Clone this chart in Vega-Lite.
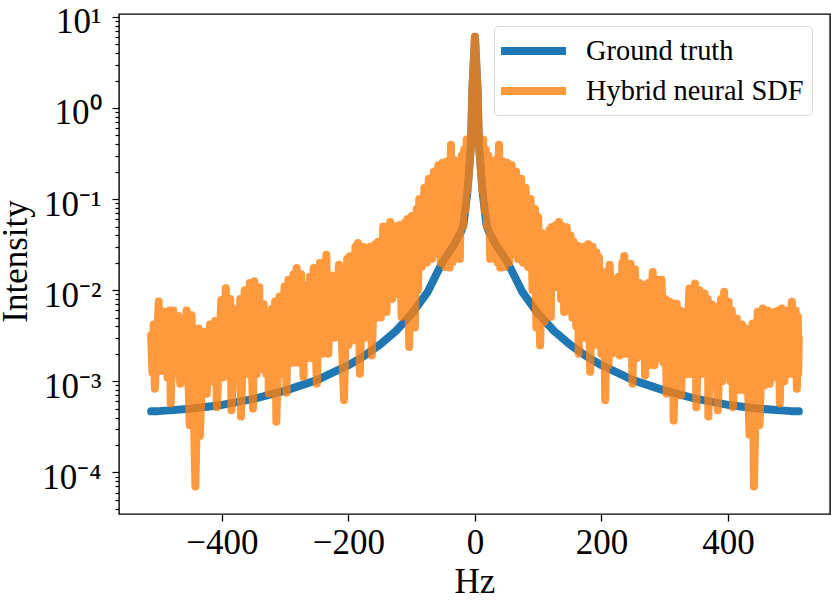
{
  "$schema": "https://vega.github.io/schema/vega-lite/v6.json",
  "width": 711,
  "height": 500,
  "autosize": {"type": "none"},
  "padding": {"left": 119, "top": 14, "right": 1, "bottom": 87},
  "background": "white",
  "config": {
    "view": {"stroke": "black", "strokeWidth": 1.4},
    "font": "Liberation Serif",
    "legend": {"cornerRadius": 4}
  },
  "datasets": {
    "ground": [
      {"hz":-512,"intensity":0.000468},{"hz":-500,"intensity":0.00047},{"hz":-450,"intensity":0.0005},
      {"hz":-400,"intensity":0.00055},{"hz":-350,"intensity":0.00064},{"hz":-300,"intensity":0.00079},
      {"hz":-250,"intensity":0.00103},{"hz":-200,"intensity":0.0015},{"hz":-175,"intensity":0.0019},
      {"hz":-150,"intensity":0.00253},{"hz":-125,"intensity":0.00357},{"hz":-100,"intensity":0.0055},
      {"hz":-75,"intensity":0.0095},{"hz":-62,"intensity":0.0145},{"hz":-50.6,"intensity":0.0207},
      {"hz":-33,"intensity":0.0316},{"hz":-22,"intensity":0.044},{"hz":-18.2,"intensity":0.052},
      {"hz":-11.9,"intensity":0.122},{"hz":-7.9,"intensity":0.283},{"hz":-6.3,"intensity":0.4},
      {"hz":-5.4,"intensity":0.66},{"hz":-4.3,"intensity":1.5},{"hz":-1.6,"intensity":3.5},{"hz":0,"intensity":6.05},
      {"hz":1.6,"intensity":3.5},{"hz":4.3,"intensity":1.5},{"hz":5.4,"intensity":0.66},{"hz":6.3,"intensity":0.4},
      {"hz":7.9,"intensity":0.283},{"hz":11.9,"intensity":0.122},{"hz":18.2,"intensity":0.052},
      {"hz":22,"intensity":0.044},{"hz":33,"intensity":0.0316},{"hz":50.6,"intensity":0.0207},
      {"hz":62,"intensity":0.0145},{"hz":75,"intensity":0.0095},{"hz":100,"intensity":0.0055},
      {"hz":125,"intensity":0.00357},{"hz":150,"intensity":0.00253},{"hz":175,"intensity":0.0019},
      {"hz":200,"intensity":0.0015},{"hz":250,"intensity":0.00103},{"hz":300,"intensity":0.00079},
      {"hz":350,"intensity":0.00064},{"hz":400,"intensity":0.00055},{"hz":450,"intensity":0.0005},
      {"hz":500,"intensity":0.00047},{"hz":512,"intensity":0.000468}
    ],
    "hybrid": [
      {"hz":-512,"intensity":0.0032},{"hz":-510,"intensity":0.00125},{"hz":-508,"intensity":0.0042},{"hz":-506,"intensity":0.00083},
      {"hz":-500,"intensity":0.0075},{"hz":-496,"intensity":0.0013},{"hz":-490,"intensity":0.0058},{"hz":-486,"intensity":0.0011},
      {"hz":-483,"intensity":0.006},{"hz":-481,"intensity":0.00057},{"hz":-477,"intensity":0.006},{"hz":-473,"intensity":0.0012},
      {"hz":-469,"intensity":0.0052},{"hz":-466,"intensity":0.00094},{"hz":-462,"intensity":0.004},{"hz":-458,"intensity":0.001},
      {"hz":-456,"intensity":0.006},{"hz":-451,"intensity":0.00033},{"hz":-448,"intensity":0.0053},{"hz":-442,"intensity":0.00007},
      {"hz":-437,"intensity":0.0038},{"hz":-435,"intensity":0.00025},{"hz":-429,"intensity":0.0035},{"hz":-424,"intensity":0.00073},
      {"hz":-419,"intensity":0.0042},{"hz":-416,"intensity":0.001},{"hz":-411,"intensity":0.0046},{"hz":-408,"intensity":0.00052},
      {"hz":-401,"intensity":0.0078},{"hz":-398,"intensity":0.0011},{"hz":-394,"intensity":0.0105},{"hz":-390,"intensity":0.0012},
      {"hz":-387,"intensity":0.008},{"hz":-385,"intensity":0.00048},{"hz":-377,"intensity":0.0062},{"hz":-374,"intensity":0.0012},
      {"hz":-371,"intensity":0.008},{"hz":-370,"intensity":0.00041},{"hz":-364,"intensity":0.01},{"hz":-359,"intensity":0.0012},
      {"hz":-356,"intensity":0.012},{"hz":-351,"intensity":0.0005},{"hz":-349,"intensity":0.0125},{"hz":-345,"intensity":0.0012},
      {"hz":-341,"intensity":0.0108},{"hz":-340,"intensity":0.00135},{"hz":-334,"intensity":0.007},{"hz":-330,"intensity":0.0012},
      {"hz":-327,"intensity":0.0053},{"hz":-326,"intensity":0.00073},{"hz":-321,"intensity":0.0062},{"hz":-317,"intensity":0.0013},
      {"hz":-316,"intensity":0.0075},{"hz":-314,"intensity":0.00036},{"hz":-309,"intensity":0.0085},{"hz":-305,"intensity":0.0012},
      {"hz":-301,"intensity":0.011},{"hz":-298,"intensity":0.00075},{"hz":-295,"intensity":0.013},{"hz":-291,"intensity":0.0016},
      {"hz":-287,"intensity":0.015},{"hz":-285,"intensity":0.0016},{"hz":-282,"intensity":0.0175},{"hz":-278,"intensity":0.0016},
      {"hz":-275,"intensity":0.015},{"hz":-271,"intensity":0.00112},{"hz":-269,"intensity":0.0113},{"hz":-265,"intensity":0.0018},
      {"hz":-261,"intensity":0.014},{"hz":-258,"intensity":0.0018},{"hz":-255,"intensity":0.0175},{"hz":-250,"intensity":0.00094},
      {"hz":-245,"intensity":0.02},{"hz":-241,"intensity":0.002},{"hz":-235,"intensity":0.0245},{"hz":-232,"intensity":0.002},
      {"hz":-227,"intensity":0.0145},{"hz":-222,"intensity":0.003},{"hz":-215,"intensity":0.019},{"hz":-207,"intensity":0.00062},
      {"hz":-202,"intensity":0.022},{"hz":-200,"intensity":0.0025},{"hz":-198,"intensity":0.0235},{"hz":-194,"intensity":0.0028},
      {"hz":-189,"intensity":0.03},{"hz":-187,"intensity":0.003},{"hz":-185,"intensity":0.033},{"hz":-182,"intensity":0.00121},
      {"hz":-177,"intensity":0.03},{"hz":-174,"intensity":0.003},{"hz":-166,"intensity":0.03},{"hz":-163,"intensity":0.00192},
      {"hz":-158,"intensity":0.032},{"hz":-155,"intensity":0.005},{"hz":-153,"intensity":0.034},{"hz":-149,"intensity":0.005},
      {"hz":-145,"intensity":0.05},{"hz":-140,"intensity":0.00575},{"hz":-134,"intensity":0.056},{"hz":-131,"intensity":0.008},
      {"hz":-125,"intensity":0.05},{"hz":-122,"intensity":0.009},{"hz":-119,"intensity":0.052},{"hz":-116,"intensity":0.0051},
      {"hz":-111,"intensity":0.055},{"hz":-109,"intensity":0.006},{"hz":-107,"intensity":0.06},{"hz":-104,"intensity":0.00238},
      {"hz":-100,"intensity":0.065},{"hz":-95,"intensity":0.0039},{"hz":-92,"intensity":0.078},{"hz":-90,"intensity":0.01},
      {"hz":-88,"intensity":0.1},{"hz":-84,"intensity":0.018},{"hz":-80,"intensity":0.133},{"hz":-76,"intensity":0.02},
      {"hz":-73,"intensity":0.167},{"hz":-68,"intensity":0.022},{"hz":-65,"intensity":0.2},{"hz":-61,"intensity":0.025},
      {"hz":-58,"intensity":0.235},{"hz":-54,"intensity":0.02},{"hz":-51,"intensity":0.25},{"hz":-47,"intensity":0.018},
      {"hz":-44,"intensity":0.26},{"hz":-40,"intensity":0.0177},{"hz":-38,"intensity":0.395},{"hz":-36,"intensity":0.02},
      {"hz":-34,"intensity":0.27},{"hz":-31,"intensity":0.022},{"hz":-28,"intensity":0.26},{"hz":-24,"intensity":0.022},
      {"hz":-21,"intensity":0.3},{"hz":-19,"intensity":0.05},{"hz":-17,"intensity":0.35},{"hz":-15,"intensity":0.075},
      {"hz":-13,"intensity":0.45},{"hz":-11.9,"intensity":0.122},{"hz":-7.9,"intensity":0.283},{"hz":-6.3,"intensity":0.4},
      {"hz":-5.4,"intensity":0.66},{"hz":-4.3,"intensity":1.5},{"hz":-1.6,"intensity":3.5},{"hz":0,"intensity":6.05},{"hz":1.6,"intensity":3.5},
      {"hz":4.3,"intensity":1.5},{"hz":5.4,"intensity":0.66},{"hz":6.3,"intensity":0.4},{"hz":7.9,"intensity":0.283},{"hz":11.9,"intensity":0.122},
      {"hz":13,"intensity":0.45},{"hz":15,"intensity":0.075},{"hz":17,"intensity":0.35},{"hz":19,"intensity":0.05},
      {"hz":21,"intensity":0.3},{"hz":24,"intensity":0.022},{"hz":28,"intensity":0.26},{"hz":31,"intensity":0.022},
      {"hz":34,"intensity":0.27},{"hz":36,"intensity":0.02},{"hz":38,"intensity":0.395},{"hz":40,"intensity":0.0177},
      {"hz":44,"intensity":0.26},{"hz":47,"intensity":0.018},{"hz":51,"intensity":0.25},{"hz":54,"intensity":0.02},
      {"hz":58,"intensity":0.235},{"hz":61,"intensity":0.025},{"hz":65,"intensity":0.2},{"hz":68,"intensity":0.022},
      {"hz":73,"intensity":0.167},{"hz":76,"intensity":0.02},{"hz":80,"intensity":0.133},{"hz":84,"intensity":0.018},
      {"hz":88,"intensity":0.1},{"hz":91,"intensity":0.01},{"hz":95,"intensity":0.078},{"hz":97,"intensity":0.0039},
      {"hz":100,"intensity":0.063},{"hz":103,"intensity":0.00248},{"hz":107,"intensity":0.042},{"hz":110,"intensity":0.0045},
      {"hz":112,"intensity":0.04},{"hz":115,"intensity":0.0051},{"hz":118,"intensity":0.046},{"hz":120,"intensity":0.0051},
      {"hz":121,"intensity":0.049},{"hz":125,"intensity":0.0108},{"hz":128,"intensity":0.052},{"hz":130,"intensity":0.0108},
      {"hz":133,"intensity":0.056},{"hz":136,"intensity":0.008},{"hz":139,"intensity":0.05},{"hz":141,"intensity":0.00575},
      {"hz":145,"intensity":0.049},{"hz":148,"intensity":0.006},{"hz":151,"intensity":0.04},{"hz":154,"intensity":0.005},
      {"hz":156,"intensity":0.034},{"hz":160,"intensity":0.004},{"hz":162,"intensity":0.031},{"hz":164,"intensity":0.00201},
      {"hz":166,"intensity":0.03},{"hz":170,"intensity":0.003},{"hz":174,"intensity":0.03},{"hz":177,"intensity":0.003},
      {"hz":179,"intensity":0.032},{"hz":182,"intensity":0.00127},{"hz":186,"intensity":0.03},{"hz":189,"intensity":0.0025},
      {"hz":192,"intensity":0.026},{"hz":194,"intensity":0.003},{"hz":196,"intensity":0.023},{"hz":200,"intensity":0.002},
      {"hz":203,"intensity":0.0155},{"hz":206,"intensity":0.00062},{"hz":209,"intensity":0.016},{"hz":211,"intensity":0.0015},
      {"hz":213,"intensity":0.019},{"hz":217,"intensity":0.002},{"hz":221,"intensity":0.013},{"hz":225,"intensity":0.0025},
      {"hz":227,"intensity":0.014},{"hz":229,"intensity":0.00192},{"hz":233,"intensity":0.02},{"hz":235,"intensity":0.002},
      {"hz":236,"intensity":0.0237},{"hz":240,"intensity":0.002},{"hz":246,"intensity":0.0195},{"hz":249,"intensity":0.00094},
      {"hz":253,"intensity":0.017},{"hz":256,"intensity":0.0018},{"hz":260,"intensity":0.012},{"hz":264,"intensity":0.002},
      {"hz":266,"intensity":0.0114},{"hz":269,"intensity":0.00116},{"hz":274,"intensity":0.012},{"hz":276,"intensity":0.0015},
      {"hz":281,"intensity":0.0158},{"hz":284,"intensity":0.0015},{"hz":288,"intensity":0.013},{"hz":291,"intensity":0.0018},
      {"hz":295,"intensity":0.013},{"hz":298,"intensity":0.0016},{"hz":301,"intensity":0.008},{"hz":303,"intensity":0.00073},
      {"hz":308,"intensity":0.00745},{"hz":311,"intensity":0.0011},{"hz":313,"intensity":0.0072},{"hz":314,"intensity":0.00037},
      {"hz":319,"intensity":0.0071},{"hz":322,"intensity":0.001},{"hz":324,"intensity":0.006},{"hz":326,"intensity":0.0007},
      {"hz":330,"intensity":0.0058},{"hz":334,"intensity":0.0012},{"hz":339,"intensity":0.0104},{"hz":342,"intensity":0.0012},
      {"hz":348,"intensity":0.0118},{"hz":350,"intensity":0.00052},{"hz":355,"intensity":0.01},{"hz":358,"intensity":0.0012},
      {"hz":363,"intensity":0.0092},{"hz":366,"intensity":0.0012},{"hz":368,"intensity":0.008},{"hz":369,"intensity":0.00041},
      {"hz":374,"intensity":0.007},{"hz":377,"intensity":0.001},{"hz":379,"intensity":0.0066},{"hz":384,"intensity":0.00048},
      {"hz":389,"intensity":0.008},{"hz":391,"intensity":0.001},{"hz":394,"intensity":0.0096},{"hz":397,"intensity":0.0012},
      {"hz":401,"intensity":0.00745},{"hz":404,"intensity":0.001},{"hz":406,"intensity":0.006},{"hz":408,"intensity":0.00052},
      {"hz":414,"intensity":0.0049},{"hz":417,"intensity":0.0008},{"hz":422,"intensity":0.0042},{"hz":425,"intensity":0.0008},
      {"hz":429,"intensity":0.0038},{"hz":434,"intensity":0.00026},{"hz":439,"intensity":0.0043},{"hz":441,"intensity":0.00007},
      {"hz":447,"intensity":0.0058},{"hz":450,"intensity":0.00033},{"hz":455,"intensity":0.0063},{"hz":458,"intensity":0.0009},
      {"hz":463,"intensity":0.006},{"hz":466,"intensity":0.00094},{"hz":474,"intensity":0.0058},{"hz":477,"intensity":0.0011},
      {"hz":480,"intensity":0.006},{"hz":482,"intensity":0.00057},{"hz":485,"intensity":0.0063},{"hz":489,"intensity":0.001},
      {"hz":493,"intensity":0.006},{"hz":496,"intensity":0.0012},{"hz":501,"intensity":0.00745},{"hz":503,"intensity":0.0012},
      {"hz":507,"intensity":0.006},{"hz":509,"intensity":0.00083},{"hz":510.5,"intensity":0.0051},{"hz":511,"intensity":0.0012},
      {"hz":512,"intensity":0.003}
    ]
  },
  "layer": [
    {
      "data": {"name": "ground"},
      "transform": [{"calculate": "'Ground truth'", "as": "series"}],
      "mark": {"type": "line", "strokeWidth": 8, "strokeCap": "round", "strokeJoin": "round", "clip": true},
      "encoding": {
        "x": {"field": "hz", "type": "quantitative"},
        "y": {"field": "intensity", "type": "quantitative"},
        "stroke": {"field": "series", "type": "nominal"}
      }
    },
    {
      "data": {"name": "hybrid"},
      "transform": [{"calculate": "'Hybrid neural SDF'", "as": "series"}],
      "mark": {"type": "line", "strokeWidth": 8, "strokeCap": "round", "strokeJoin": "round", "clip": true},
      "encoding": {
        "x": {"field": "hz", "type": "quantitative"},
        "y": {"field": "intensity", "type": "quantitative"},
        "stroke": {"field": "series", "type": "nominal"}
      }
    }
  ],
  "encoding": {
    "x": {
      "field": "hz",
      "type": "quantitative",
      "title": "Hz",
      "scale": {"domain": [-562.8, 561.3], "nice": false, "zero": false},
      "axis": {
        "values": [-400, -200, 0, 200, 400],
        "grid": false,
        "domain": false,
        "tickColor": "black",
        "tickSize": 7,
        "tickWidth": 1.3,
        "labelFontSize": 35,
        "labelColor": "black",
        "labelPadding": 4,
        "titleFontSize": 35,
        "titleFontWeight": "normal",
        "titleColor": "black",
        "titlePadding": 4
      }
    },
    "y": {
      "field": "intensity",
      "type": "quantitative",
      "title": "Intensity",
      "scale": {"type": "log", "domain": [0.0000349, 10.76], "nice": false},
      "axis": {
        "values": [0.00004,0.00005,0.00006,0.00007,0.00008,0.00009,0.0001,0.0002,0.0003,0.0004,0.0005,0.0006,0.0007,0.0008,0.0009,0.001,0.002,0.003,0.004,0.005,0.006,0.007,0.008,0.009,0.01,0.02,0.03,0.04,0.05,0.06,0.07,0.08,0.09,0.1,0.2,0.3,0.4,0.5,0.6,0.7,0.8,0.9,1,2,3,4,5,6,7,8,9,10],
        "grid": false,
        "domain": false,
        "tickColor": "black",
        "tickSize": {"condition": {"test": "datum.value == 10 || datum.value == 1 || datum.value == 0.1 || datum.value == 0.01 || datum.value == 0.001 || datum.value == 0.0001", "value": 7}, "value": 4},
        "tickWidth": 1.2,
        "labelFontSize": 35,
        "labelColor": "black",
        "labelPadding": 11,
        "labelBaseline": "alphabetic",
        "labelOffset": 16,
        "labelOverlap": false,
        "labelBound": false,
        "labelExpr": "datum.value == 10 ? '10¹' : datum.value == 1 ? '10⁰' : datum.value == 0.1 ? '10⁻¹' : datum.value == 0.01 ? '10⁻²' : datum.value == 0.001 ? '10⁻³' : datum.value == 0.0001 ? '10⁻⁴' : ''",
        "titleFontSize": 35,
        "titleFontWeight": "normal",
        "titleColor": "black",
        "titleX": -93,
        "titleY": 247,
        "titleBaseline": "alphabetic",
        "titleAlign": "center"
      }
    },
    "stroke": {
      "field": "series",
      "type": "nominal",
      "scale": {"domain": ["Ground truth", "Hybrid neural SDF"], "range": ["#1f77b4", "rgba(255,127,14,0.8)"]},
      "legend": {
        "title": null,
        "orient": "none",
        "legendX": 375,
        "legendY": 12,
        "symbolType": "M-2.5,0H2.5",
        "symbolSize": 676,
        "symbolStrokeWidth": 8,
        "symbolOffset": 14.5,
        "labelFontSize": 28.4,
        "labelColor": "black",
        "labelOffset": 35.5,
        "labelLimit": 300,
        "rowPadding": 7,
        "padding": 8,
        "fillColor": "rgba(255,255,255,0.8)",
        "strokeColor": "#d9d9d9"
      }
    }
  }
}
